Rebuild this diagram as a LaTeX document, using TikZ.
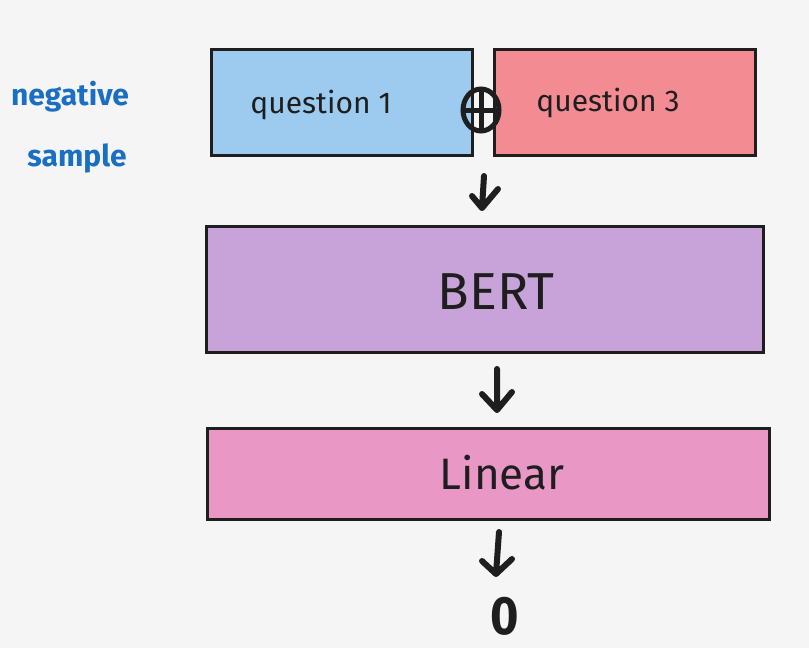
\documentclass[tikz,border=0pt]{standalone}
\usepackage{fontspec}
\setmainfont{Fira Sans}
\usetikzlibrary{shapes.geometric}
\definecolor{bg}{HTML}{F5F5F5}
\definecolor{qone}{HTML}{9DCBEF}
\definecolor{qthree}{HTML}{F28B92}
\definecolor{bert}{HTML}{C8A3D9}
\definecolor{lin}{HTML}{E997C4}
\definecolor{inkblue}{HTML}{1A6FC4}
\definecolor{ink}{HTML}{1E1E1E}
\tikzset{
  box/.style={draw=ink, line width=2.6pt, inner sep=0pt, anchor=north west},
  flow/.style={draw=ink, line width=6pt, line cap=round, line join=round},
}
\begin{document}
\begin{tikzpicture}[x=1pt,y=-1pt]
\useasboundingbox[fill=bg] (0,0) rectangle (809,648);
\node[box, fill=qone, minimum width=261pt, minimum height=106pt] (q1) at (210,48) {};
\node[font=\fontsize{30}{34}\selectfont, text=ink] at (321,105) {question 1};
\node[box, fill=qthree, minimum width=261pt, minimum height=106pt] (q3) at (493,48) {};
\node[font=\fontsize{30}{34}\selectfont, text=ink] at (608,103) {question 3};
\node[draw=ink, line width=5pt, ellipse, minimum width=36pt, minimum height=42pt, inner sep=0pt] (plus) at (481,110) {};
\draw[ink, line width=5pt, line cap=round] ([xshift=3pt]plus.west) -- ([xshift=-3pt]plus.east) ([yshift=-4pt]plus.north) -- ([yshift=4pt]plus.south);
\node[box, fill=bert, minimum width=557pt, minimum height=126pt] (bert) at (205,225) {};
\node[font=\fontsize{52}{58}\selectfont, text=ink] at (496,292) {BERT};
\node[box, fill=lin, minimum width=562pt, minimum height=91pt] (lin) at (206,427) {};
\node[font=\fontsize{44}{50}\selectfont, text=ink] at (502,473) {Linear};
\node[font=\bfseries\fontsize{54}{60}\selectfont, text=ink, xscale=0.9, inner sep=0pt, anchor=base] (out) at (505,634) {0};
\node[font=\bfseries\fontsize{30}{34}\selectfont, text=inkblue] (neg) at (70,97) {negative};
\node[font=\bfseries\fontsize{30}{34}\selectfont, text=inkblue] (smp) at (77,158) {sample};
\coordinate (a1) at (484,176);
\coordinate (a1e) at (482,208);
\draw[flow] (a1) -- (a1e) (a1e) -- +(-10,-12) (a1e) -- +(16,-19);
\coordinate (a2) at (497,369);
\coordinate (a2e) at (497,410);
\draw[flow] (a2) -- (a2e) (a2e) -- +(-15,-16) (a2e) -- +(15,-18);
\coordinate (a3) at (499,532);
\coordinate (a3e) at (496,574);
\draw[flow] (a3) -- (a3e) (a3e) -- +(-14,-13) (a3e) -- +(16,-15);
\end{tikzpicture}
\end{document}
